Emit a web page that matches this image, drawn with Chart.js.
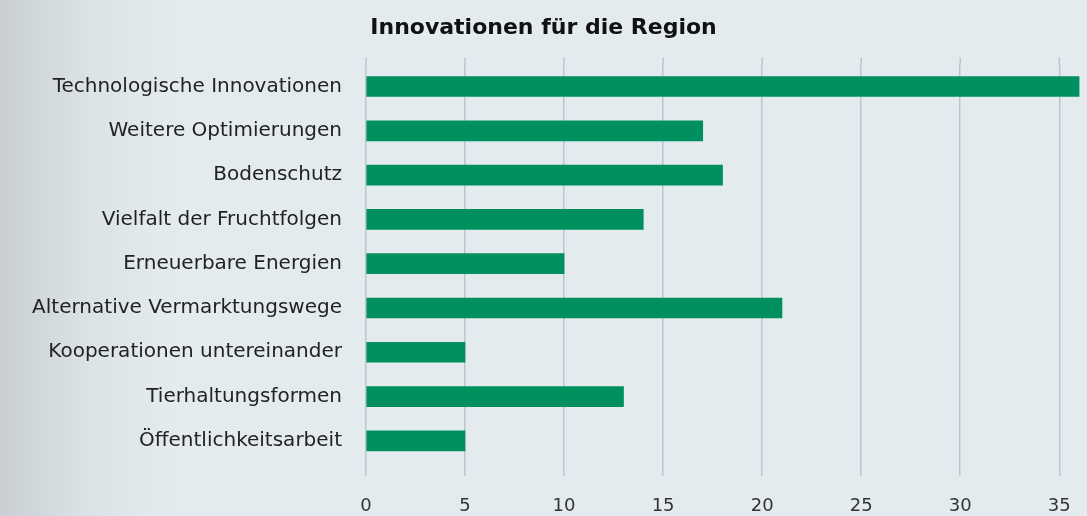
<!DOCTYPE html>
<html>
<head>
<meta charset="utf-8">
<script src="https://cdn.jsdelivr.net/npm/chart.js@4.4.0/dist/chart.umd.min.js"></script>
<style>
  html, body { margin: 0; padding: 0; }
  body {
    width: 1087px; height: 516px; overflow: hidden;
    background: linear-gradient(to right, #c9cfd3 0px, #dce3e6 90px, #e4ebee 170px, #e4ebee 100%);
  }
  #wrap { width: 1087px; height: 516px; position: relative; }
</style>
</head>
<body>
<div id="wrap"><canvas id="barChart"></canvas></div>
<script>
// Daten
const categories = [
  'Technologische Innovationen',
  'Weitere Optimierungen',
  'Bodenschutz',
  'Vielfalt der Fruchtfolgen',
  'Erneuerbare Energien',
  'Alternative Vermarktungswege',
  'Kooperationen untereinander',
  'Tierhaltungsformen',
  'Öffentlichkeitsarbeit'
];
const values = [36, 17, 18, 14, 10, 21, 5, 13, 5];
const xTicks = [0, 5, 10, 15, 20, 25, 30, 35];

const FONT = '"DejaVu Sans", "Noto Sans", sans-serif';
const GRID = '#bac6cd';

// Gitterlinien etwas über die Zeichenfläche hinaus verlängern
const gridTop = {
  id: 'gridTop',
  beforeDatasetsDraw(chart) {
    const ctx = chart.ctx, x = chart.scales.x, top = chart.chartArea.top;
    ctx.save();
    ctx.strokeStyle = GRID;
    ctx.lineWidth = 1.5;
    x.ticks.forEach(t => {
      const px = x.getPixelForValue(t.value);
      ctx.beginPath();
      ctx.moveTo(px, top - 7);
      ctx.lineTo(px, top);
      ctx.stroke();
    });
    ctx.restore();
  }
};

new Chart(document.getElementById('barChart'), {
  type: 'bar',
  data: {
    labels: categories,
    datasets: [{
      data: values,
      backgroundColor: '#008f5f',
      barThickness: 20
    }]
  },
  options: {
    indexAxis: 'y',
    responsive: true,
    maintainAspectRatio: false,
    animation: false,
    layout: { padding: { left: 0, right: 0, top: 0, bottom: 0 } },
    plugins: {
      legend: { display: false },
      tooltip: { enabled: false },
      title: {
        display: true,
        text: 'Innovationen für die Region',
        color: '#111',
        font: { family: FONT, size: 22, weight: 'bold' },
        padding: { top: 15, bottom: 23 }
      }
    },
    scales: {
      x: {
        min: 0,
        max: 36.4,
        afterBuildTicks: axis => {
          axis.ticks = xTicks.map(v => ({ value: v }));
        },
        afterFit: scale => {
          scale.height = 53;
          scale.paddingRight = 0;
          scale.paddingLeft = 0;
        },
        grid: { color: GRID, lineWidth: 1.5, tickLength: 13, drawTicks: true },
        border: { display: false },
        ticks: {
          color: '#333',
          padding: 20,
          font: { family: FONT, size: 18 }
        }
      },
      y: {
        afterFit: scale => { scale.width = 366; },
        grid: { display: false },
        border: { display: false },
        ticks: {
          color: '#222',
          padding: 16,
          font: { family: FONT, size: 20 }
        }
      }
    }
  },
  plugins: [gridTop]
});
</script>
</body>
</html>
